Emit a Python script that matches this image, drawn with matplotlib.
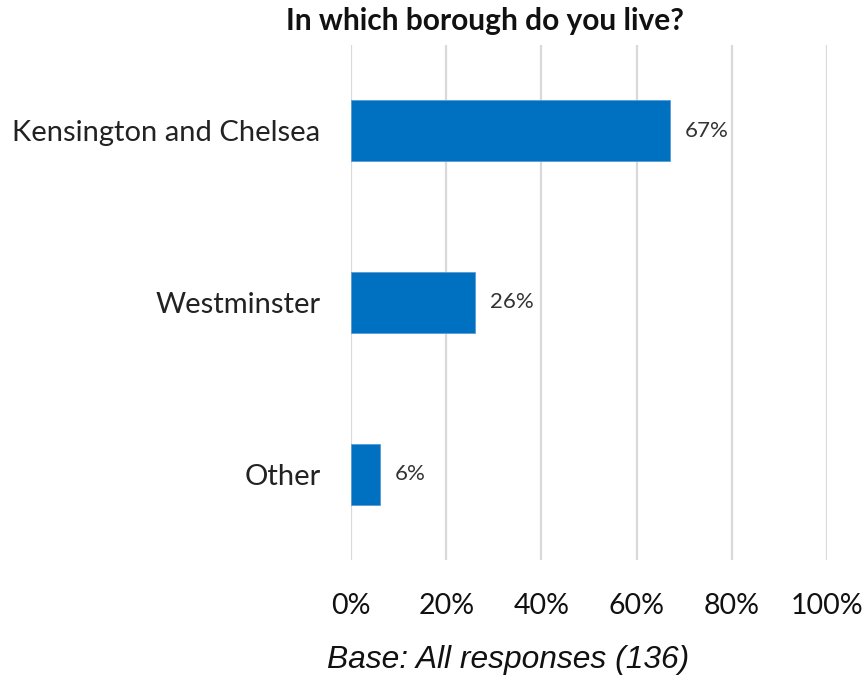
import matplotlib
matplotlib.use("Agg")
import matplotlib.pyplot as plt

categories = ["Kensington and Chelsea", "Westminster", "Other"]
values = [67, 26, 6]
tick_values = [0, 20, 40, 60, 80, 100]
tick_labels = ["0%", "20%", "40%", "60%", "80%", "100%"]
title = "In which borough do you live?"
base_note = "Base: All responses (136)"

W, H = 868, 680
fig = plt.figure(figsize=(W / 100, H / 100), dpi=100)
ax = fig.add_axes([351 / W, 1 - 560 / H, 476 / W, 515 / H])

bar_color = "#0070C0"
ypos = list(range(len(categories)))
ax.barh(ypos, values, height=0.355, color=bar_color, edgecolor="#5B9BD5", linewidth=0.6, zorder=3)
ax.set_xlim(0, 100)
ax.set_ylim(len(categories) - 0.5, -0.5)

ax.set_xticks(tick_values)
ax.set_xticklabels(tick_labels, fontfamily="Lato", fontsize=20.5, color="#111111")
ax.set_yticks(ypos)
ax.set_yticklabels(categories, fontfamily="Lato", fontsize=21, color="#222222")
ax.tick_params(axis="x", length=0, pad=24)
ax.tick_params(axis="y", length=0, pad=22)
ax.grid(axis="x", color="#D9D9D9", linewidth=1.6, zorder=0)
for s in ax.spines.values():
    s.set_visible(False)

for y, v in zip(ypos, values):
    ax.annotate(f"{v}%", xy=(v, y), xytext=(11, 0), textcoords="offset points",
                va="center", ha="left", fontfamily="Lato", fontsize=16, color="#333333")

fig.text(485 / W, 1 - 21 / H, title, ha="center", va="center", fontfamily="Lato",
         fontweight="bold", fontsize=21.5, color="#111111")
fig.text(508 / W, 1 - 660 / H, base_note, ha="center", va="center",
         fontfamily="Liberation Sans", fontstyle="italic", fontsize=22.9, color="#111111")

fig.savefig("out.png", dpi=100, facecolor="white")
